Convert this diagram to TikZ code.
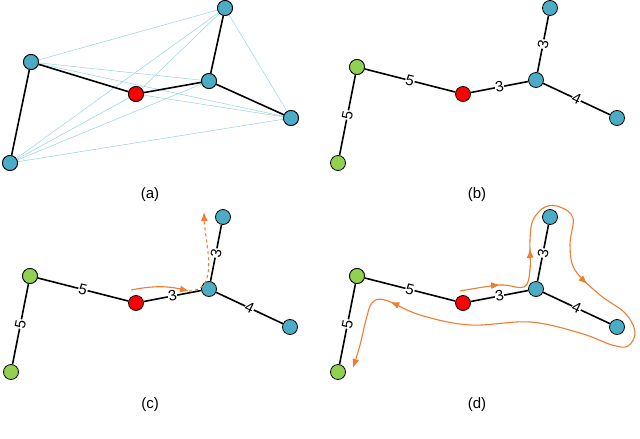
\documentclass[tikz,border=0pt]{standalone}
\usepackage{fontspec}
\setmainfont{Liberation Sans}
\usetikzlibrary{arrows.meta,decorations.markings,calc}
\definecolor{nblue}{RGB}{75,172,198}
\definecolor{ngreen}{RGB}{146,208,80}
\definecolor{lblue}{RGB}{150,210,225}
\definecolor{orng}{RGB}{237,125,49}
\tikzset{
  vtx/.style={circle,draw=black,line width=0.8pt,minimum size=15pt,inner sep=0pt},
  bv/.style={vtx,fill=nblue},
  gv/.style={vtx,fill=ngreen},
  rv/.style={vtx,fill=red},
  edge/.style={draw=black,line width=1.6pt},
  ledge/.style={draw=lblue,line width=0.5pt},
  wlab/.style={fill=white,inner sep=0.5pt,font=\fontsize{15}{15}\selectfont,sloped},
  captext/.style={font=\fontsize{15}{15}\selectfont},
  orarrow/.style={draw=orng,line width=1.1pt},
  tip/.style={-{Latex[length=9pt,width=7pt]}}
}
\newcommand\treepanel{%
  \node[gv] (g1) at (357,67) {};
  \node[gv] (g2) at (338,163) {};
  \node[rv] (r) at (463,94) {};
  \node[bv] (c) at (536,80) {};
  \node[bv] (t) at (550,8) {};
  \node[bv] (e) at (617,118) {};
  \draw[edge] (g1) -- node[wlab]{5} (r);
  \draw[edge] (g2) -- node[wlab]{5} (g1);
  \draw[edge] (r) -- node[wlab]{3} (c);
  \draw[edge] (c) -- node[wlab]{3} (t);
  \draw[edge] (c) -- node[wlab]{4} (e);
  \node[gv] at (g1) {};
}
\begin{document}
\begin{tikzpicture}[x=1pt,y=-1pt]
\useasboundingbox (0,0) rectangle (640,439);
% panel a
\node[bv] (a1) at (31,62) {};
\node[bv] (a2) at (225,8) {};
\node[rv] (a3) at (136,94) {};
\node[bv] (a4) at (209,81) {};
\node[bv] (a5) at (291,118) {};
\node[bv] (a6) at (10,163) {};
\foreach \p/\q in {a1/a2,a1/a4,a1/a5,a2/a3,a2/a5,a2/a6,a3/a5,a3/a6,a4/a6,a5/a6}
  \draw[ledge] (\p) -- (\q);
\foreach \p/\q in {a1/a3,a3/a4,a4/a2,a4/a5,a1/a6}
  \draw[edge] (\p) -- (\q);
\foreach \n/\s in {a1/bv,a2/bv,a3/rv,a4/bv,a5/bv,a6/bv} \node[\s] at (\n) {};
\node[captext] (capa) at (150,195) {(a)};
% panel b
\begin{scope}[name prefix=b-]
\treepanel
\end{scope}
\node[captext] (capb) at (477,195) {(b)};
% panel c
\begin{scope}[shift={(-327,209)},name prefix=c-]
\treepanel
\coordinate (s1) at (458,81);
\coordinate (s2) at (516,82);
\coordinate (s3) at (531,3);
\end{scope}
\draw[orarrow,tip] (c-s1) to[bend left=12] (c-s2);
\draw[orarrow,dashed,tip] (c-s2) to[out=0,in=-88] (c-s3);
\node[captext] (capc) at (150,405) {(c)};
% panel d
\begin{scope}[shift={(0,209)},name prefix=d-]
\treepanel
\end{scope}
\draw[orarrow,
  decoration={markings,
    mark=at position 0.06 with {\arrow{Latex[length=9pt,width=7pt]}},
    mark=at position 0.155 with {\arrow{Latex[length=9pt,width=7pt]}},
    mark=at position 0.38 with {\arrow{Latex[length=9pt,width=7pt]}},
    mark=at position 0.87 with {\arrow{Latex[length=9pt,width=7pt]}}},
  postaction={decorate},tip]
  plot[smooth,tension=0.6] coordinates {
  (460,291) (500,285) (524,287) (530,270) (530,240) (533,220) (545,207) (560,207) (573,218)
  (570,245) (575,270) (600,295) (625,313) (635,332) (628,346) (612,345)
  (580,333) (530,322) (470,325) (420,315) (385,300) (372,303) (366,320) (360,345) (353,368)};
\node[captext] (capd) at (477,405) {(d)};
\end{tikzpicture}
\end{document}
